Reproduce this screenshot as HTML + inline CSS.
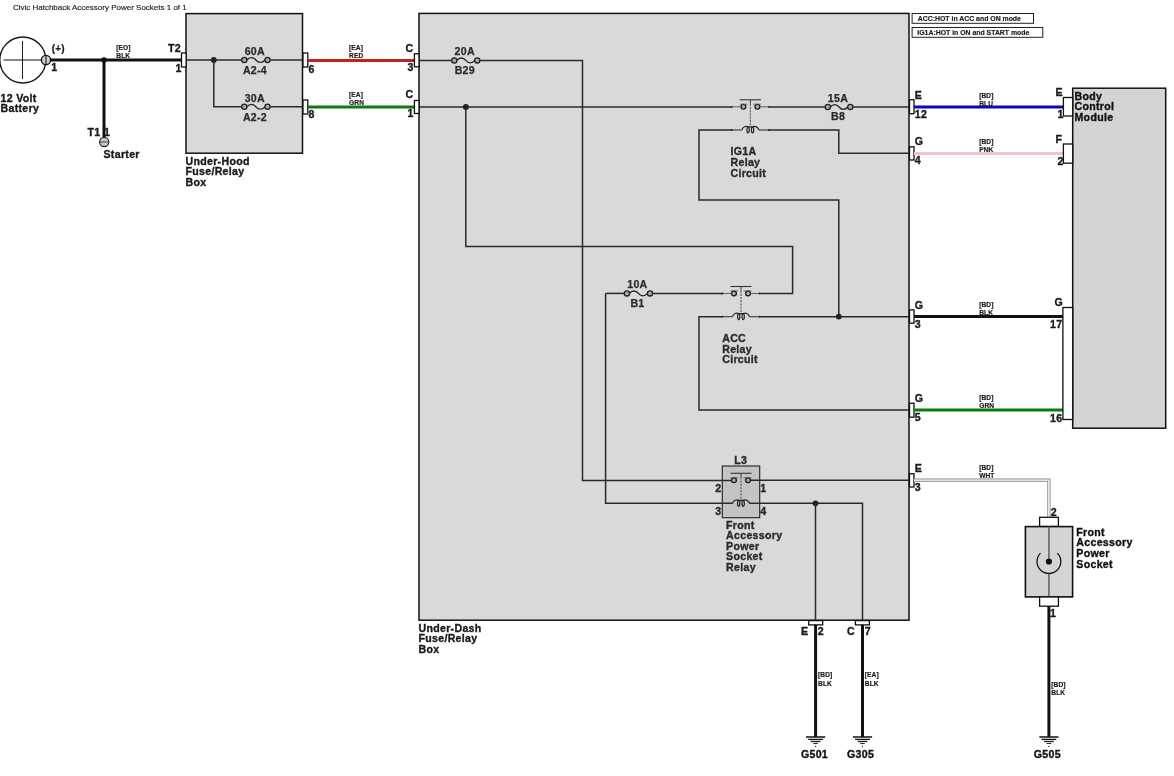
<!DOCTYPE html><html><head><meta charset="utf-8"><style>html,body{margin:0;padding:0;background:#fff;}svg{display:block;will-change:transform;}text{font-family:"Liberation Sans",sans-serif;}</style></head><body>
<svg width="1174" height="776" viewBox="0 0 1174 776">
<rect x="0" y="0" width="1174" height="776" fill="#fff"/>
<text x="12.9" y="9.5" font-size="8" text-anchor="start" fill="#222" stroke="#222" stroke-width="0.15" letter-spacing="0" font-weight="normal">Civic Hatchback Accessory Power Sockets 1 of 1</text>
<circle cx="22.8" cy="60" r="23" fill="none" stroke="#1a1a1a" stroke-width="1.4"/>
<line x1="22.5" y1="41" x2="22.5" y2="79" stroke="#222" stroke-width="1" />
<line x1="3.5" y1="60" x2="41.5" y2="60" stroke="#111" stroke-width="1.1" />
<text x="51.8" y="51.8" font-size="10" text-anchor="start" fill="#1a1a1a" stroke="#1a1a1a" stroke-width="0.2" letter-spacing="0.2" font-weight="bold">(+)</text>
<text x="51.3" y="71.4" font-size="10.6" text-anchor="start" fill="#1a1a1a" stroke="#1a1a1a" stroke-width="0.35" letter-spacing="0.3" font-weight="bold">1</text>
<text x="0.5" y="101.8" font-size="10.6" text-anchor="start" fill="#1a1a1a" stroke="#1a1a1a" stroke-width="0.35" letter-spacing="0.3" font-weight="bold">12 Volt</text>
<text x="0.5" y="112.39999999999999" font-size="10.6" text-anchor="start" fill="#1a1a1a" stroke="#1a1a1a" stroke-width="0.35" letter-spacing="0.3" font-weight="bold">Battery</text>
<line x1="50" y1="60" x2="181.5" y2="60" stroke="#111" stroke-width="3" />
<line x1="104" y1="60" x2="104" y2="137.5" stroke="#111" stroke-width="3" />
<circle cx="104" cy="60" r="2.8" fill="#111"/>
<circle cx="46" cy="60" r="4.6" fill="#d0d0d0" stroke="#111" stroke-width="1.4"/>
<line x1="46" y1="55.5" x2="46" y2="64.5" stroke="#222" stroke-width="1.2" />
<circle cx="104.2" cy="142" r="4.6" fill="#c8c8c8" stroke="#222" stroke-width="1.2"/>
<line x1="99.8" y1="142" x2="108.6" y2="142" stroke="#555" stroke-width="1.2" />
<text x="87.5" y="136" font-size="10.6" text-anchor="start" fill="#1a1a1a" stroke="#1a1a1a" stroke-width="0.35" letter-spacing="0.3" font-weight="bold">T1</text>
<text x="104.0" y="136" font-size="10.6" text-anchor="start" fill="#1a1a1a" stroke="#1a1a1a" stroke-width="0.35" letter-spacing="0.3" font-weight="bold">1</text>
<text x="103.5" y="157.7" font-size="10.6" text-anchor="start" fill="#1a1a1a" stroke="#1a1a1a" stroke-width="0.35" letter-spacing="0.3" font-weight="bold">Starter</text>
<text x="116.3" y="49.7" font-size="6.6" text-anchor="start" fill="#222" stroke="#222" stroke-width="0.2" letter-spacing="0.08" font-weight="bold">[EO]</text>
<text x="116.3" y="57.900000000000006" font-size="6.6" text-anchor="start" fill="#222" stroke="#222" stroke-width="0.2" letter-spacing="0.08" font-weight="bold">BLK</text>
<rect x="186" y="13.6" width="116.5" height="139.6" fill="#d9d9d9" stroke="#111" stroke-width="1.5"/>
<line x1="186" y1="60" x2="241.5" y2="60" stroke="#2a2a2a" stroke-width="1.5" />
<line x1="270.3" y1="60" x2="303" y2="60" stroke="#2a2a2a" stroke-width="1.5" />
<circle cx="213.8" cy="60" r="2.9" fill="#222"/>
<polyline points="213.8,60 213.8,106.8 241.5,106.8" fill="none" stroke="#2a2a2a" stroke-width="1.5" stroke-linejoin="miter"/>
<line x1="270.3" y1="106.8" x2="303" y2="106.8" stroke="#2a2a2a" stroke-width="1.5" />
<circle cx="244.3" cy="60" r="2.6" fill="#ababab" stroke="#222" stroke-width="1.3"/>
<circle cx="267.5" cy="60" r="2.6" fill="#ababab" stroke="#222" stroke-width="1.3"/>
<path d="M246.9,60 C249.6,56.8 253.2,56.8 255.89999999999998,60 S262.2,63.2 264.9,60" fill="none" stroke="#222" stroke-width="1.3"/>
<text x="254.8" y="55.2" font-size="10.6" text-anchor="middle" fill="#2a2a2a" stroke="#2a2a2a" stroke-width="0.25" letter-spacing="0.25" font-weight="bold">60A</text>
<text x="254.9" y="73.5" font-size="10.6" text-anchor="middle" fill="#2a2a2a" stroke="#2a2a2a" stroke-width="0.25" letter-spacing="0.25" font-weight="bold">A2-4</text>
<circle cx="244.3" cy="106.8" r="2.6" fill="#ababab" stroke="#222" stroke-width="1.3"/>
<circle cx="267.5" cy="106.8" r="2.6" fill="#ababab" stroke="#222" stroke-width="1.3"/>
<path d="M246.9,106.8 C249.6,103.6 253.2,103.6 255.89999999999998,106.8 S262.2,110.0 264.9,106.8" fill="none" stroke="#222" stroke-width="1.3"/>
<text x="254.8" y="101.8" font-size="10.6" text-anchor="middle" fill="#2a2a2a" stroke="#2a2a2a" stroke-width="0.25" letter-spacing="0.25" font-weight="bold">30A</text>
<text x="254.9" y="120.5" font-size="10.6" text-anchor="middle" fill="#2a2a2a" stroke="#2a2a2a" stroke-width="0.25" letter-spacing="0.25" font-weight="bold">A2-2</text>
<rect x="181.5" y="53" width="4.6" height="14" fill="#fff" stroke="#111" stroke-width="1.3"/>
<rect x="303" y="53" width="4.8" height="14" fill="#fff" stroke="#111" stroke-width="1.3"/>
<rect x="303" y="100" width="4.8" height="14" fill="#fff" stroke="#111" stroke-width="1.3"/>
<text x="167.9" y="51.8" font-size="10.6" text-anchor="start" fill="#1a1a1a" stroke="#1a1a1a" stroke-width="0.35" letter-spacing="0.3" font-weight="bold">T2</text>
<text x="175.5" y="71.5" font-size="10.6" text-anchor="start" fill="#1a1a1a" stroke="#1a1a1a" stroke-width="0.35" letter-spacing="0.3" font-weight="bold">1</text>
<text x="308.5" y="73" font-size="10.6" text-anchor="start" fill="#1a1a1a" stroke="#1a1a1a" stroke-width="0.35" letter-spacing="0.3" font-weight="bold">6</text>
<text x="308.5" y="118" font-size="10.6" text-anchor="start" fill="#1a1a1a" stroke="#1a1a1a" stroke-width="0.35" letter-spacing="0.3" font-weight="bold">8</text>
<text x="185.5" y="164.5" font-size="10.6" text-anchor="start" fill="#1a1a1a" stroke="#1a1a1a" stroke-width="0.35" letter-spacing="0.3" font-weight="bold">Under-Hood</text>
<text x="185.5" y="175.3" font-size="10.6" text-anchor="start" fill="#1a1a1a" stroke="#1a1a1a" stroke-width="0.35" letter-spacing="0.3" font-weight="bold">Fuse/Relay</text>
<text x="185.5" y="186.1" font-size="10.6" text-anchor="start" fill="#1a1a1a" stroke="#1a1a1a" stroke-width="0.35" letter-spacing="0.3" font-weight="bold">Box</text>
<line x1="307.8" y1="60.4" x2="414.4" y2="60.4" stroke="#c81e1e" stroke-width="3" />
<line x1="307.8" y1="107" x2="414.4" y2="107" stroke="#0c7a0c" stroke-width="3" />
<text x="349.1" y="50.2" font-size="6.6" text-anchor="start" fill="#222" stroke="#222" stroke-width="0.2" letter-spacing="0.08" font-weight="bold">[EA]</text>
<text x="349.1" y="58.2" font-size="6.6" text-anchor="start" fill="#222" stroke="#222" stroke-width="0.2" letter-spacing="0.08" font-weight="bold">RED</text>
<text x="349.1" y="97.2" font-size="6.6" text-anchor="start" fill="#222" stroke="#222" stroke-width="0.2" letter-spacing="0.08" font-weight="bold">[EA]</text>
<text x="349.1" y="105.2" font-size="6.6" text-anchor="start" fill="#222" stroke="#222" stroke-width="0.2" letter-spacing="0.08" font-weight="bold">GRN</text>
<rect x="419" y="13.4" width="490" height="606.8" fill="#d9d9d9" stroke="#111" stroke-width="1.5"/>
<rect x="722.3" y="466" width="37.4" height="51.7" fill="#c4c4c4" stroke="#222" stroke-width="1.1"/>
<polyline points="419,60.4 451.4,60.4" fill="none" stroke="#2a2a2a" stroke-width="1.5" stroke-linejoin="miter"/>
<circle cx="454.3" cy="60.4" r="2.6" fill="#ababab" stroke="#222" stroke-width="1.3"/>
<circle cx="477.3" cy="60.4" r="2.6" fill="#ababab" stroke="#222" stroke-width="1.3"/>
<path d="M456.90000000000003,60.4 C459.57000000000005,57.199999999999996 463.13,57.199999999999996 465.8,60.4 S472.03,63.6 474.7,60.4" fill="none" stroke="#222" stroke-width="1.3"/>
<text x="464.7" y="55.4" font-size="10.6" text-anchor="middle" fill="#2a2a2a" stroke="#2a2a2a" stroke-width="0.25" letter-spacing="0.25" font-weight="bold">20A</text>
<text x="464.8" y="73.6" font-size="10.6" text-anchor="middle" fill="#2a2a2a" stroke="#2a2a2a" stroke-width="0.25" letter-spacing="0.25" font-weight="bold">B29</text>
<polyline points="480.2,60.4 582.5,60.4 582.5,480.4 731.6,480.4" fill="none" stroke="#2a2a2a" stroke-width="1.5" stroke-linejoin="miter"/>
<polyline points="419,107 732,107" fill="none" stroke="#2a2a2a" stroke-width="1.5" stroke-linejoin="miter"/>
<circle cx="743.4" cy="106.8" r="2.4" fill="#b0b0b0" stroke="#1a1a1a" stroke-width="1.3"/>
<circle cx="757.4" cy="106.8" r="2.4" fill="#b0b0b0" stroke="#1a1a1a" stroke-width="1.3"/>
<line x1="739.8" y1="99.8" x2="760.9" y2="99.8" stroke="#333" stroke-width="1.1" />
<line x1="739.8" y1="104.2" x2="747.4" y2="104.2" stroke="#555" stroke-width="0.8" />
<line x1="753.0" y1="104.2" x2="760.9" y2="104.2" stroke="#555" stroke-width="0.8" />
<line x1="750.4" y1="99.8" x2="750.4" y2="103.8" stroke="#444" stroke-width="1.1" />
<line x1="750.4" y1="103.8" x2="750.4" y2="126.6" stroke="#666" stroke-width="1.2" stroke-dasharray="2.2,1"/>
<path d="M742.0,130.0 C742.4,126.5 746.4,126.0 748.1,126.8 C746.1,128.0 746.9,133.0 748.1,132.8 C749.4,133.0 749.9,128.0 748.1,126.8 M752.6,126.8 C750.6,128.0 751.4,133.0 752.6,132.8 C753.9,133.0 754.4,128.0 752.6,126.8 C754.4,126.0 758.4,126.5 758.8,130.0 M748.1,126.8 L752.6,126.8" fill="none" stroke="#222" stroke-width="1.25"/>
<line x1="731.8" y1="106.8" x2="741.1" y2="106.8" stroke="#666" stroke-width="1.1" />
<line x1="759.6999999999999" y1="106.8" x2="768.9" y2="106.8" stroke="#666" stroke-width="1.1" />
<line x1="731.8" y1="130.0" x2="742.0" y2="130.0" stroke="#444" stroke-width="1.2" />
<line x1="758.8" y1="130.0" x2="768.9" y2="130.0" stroke="#444" stroke-width="1.2" />
<circle cx="731.8" cy="106.8" r="0.9" fill="#222"/>
<circle cx="768.9" cy="106.8" r="0.9" fill="#222"/>
<circle cx="731.8" cy="130.0" r="0.9" fill="#222"/>
<circle cx="768.9" cy="130.0" r="0.9" fill="#222"/>
<polyline points="769,107 825.2,107" fill="none" stroke="#2a2a2a" stroke-width="1.5" stroke-linejoin="miter"/>
<circle cx="827.8" cy="107" r="2.6" fill="#ababab" stroke="#222" stroke-width="1.3"/>
<circle cx="850.3" cy="107" r="2.6" fill="#ababab" stroke="#222" stroke-width="1.3"/>
<path d="M830.4,107 C832.995,103.8 836.4549999999999,103.8 839.05,107 S845.1049999999999,110.2 847.6999999999999,107" fill="none" stroke="#222" stroke-width="1.3"/>
<text x="837.9499999999999" y="102" font-size="10.6" text-anchor="middle" fill="#2a2a2a" stroke="#2a2a2a" stroke-width="0.25" letter-spacing="0.25" font-weight="bold">15A</text>
<text x="838.05" y="120.3" font-size="10.6" text-anchor="middle" fill="#2a2a2a" stroke="#2a2a2a" stroke-width="0.25" letter-spacing="0.25" font-weight="bold">B8</text>
<polyline points="852.9,107 909,107" fill="none" stroke="#2a2a2a" stroke-width="1.5" stroke-linejoin="miter"/>
<circle cx="465.9" cy="106.9" r="3" fill="#222"/>
<polyline points="465.8,107 465.8,246.4 792.6,246.4 792.6,293.4 759.6,293.4" fill="none" stroke="#2a2a2a" stroke-width="1.5" stroke-linejoin="miter"/>
<polyline points="605.6,293.4 624.3,293.4" fill="none" stroke="#2a2a2a" stroke-width="1.5" stroke-linejoin="miter"/>
<circle cx="626.9" cy="293.4" r="2.6" fill="#ababab" stroke="#222" stroke-width="1.3"/>
<circle cx="650" cy="293.4" r="2.6" fill="#ababab" stroke="#222" stroke-width="1.3"/>
<path d="M629.5,293.4 C632.185,290.2 635.7650000000001,290.2 638.45,293.4 S644.715,296.59999999999997 647.4,293.4" fill="none" stroke="#222" stroke-width="1.3"/>
<text x="637.35" y="288.4" font-size="10.6" text-anchor="middle" fill="#2a2a2a" stroke="#2a2a2a" stroke-width="0.25" letter-spacing="0.25" font-weight="bold">10A</text>
<text x="637.45" y="306.5" font-size="10.6" text-anchor="middle" fill="#2a2a2a" stroke="#2a2a2a" stroke-width="0.25" letter-spacing="0.25" font-weight="bold">B1</text>
<polyline points="652.6,293.4 722.4,293.4" fill="none" stroke="#2a2a2a" stroke-width="1.5" stroke-linejoin="miter"/>
<polyline points="605.6,293.4 605.6,503.3 732.6,503.3" fill="none" stroke="#2a2a2a" stroke-width="1.5" stroke-linejoin="miter"/>
<circle cx="734" cy="293.5" r="2.4" fill="#b0b0b0" stroke="#1a1a1a" stroke-width="1.3"/>
<circle cx="748" cy="293.5" r="2.4" fill="#b0b0b0" stroke="#1a1a1a" stroke-width="1.3"/>
<line x1="730.4" y1="286.5" x2="751.5" y2="286.5" stroke="#333" stroke-width="1.1" />
<line x1="730.4" y1="290.9" x2="738" y2="290.9" stroke="#555" stroke-width="0.8" />
<line x1="743.6" y1="290.9" x2="751.5" y2="290.9" stroke="#555" stroke-width="0.8" />
<line x1="741" y1="286.5" x2="741" y2="290.5" stroke="#444" stroke-width="1.1" />
<line x1="741" y1="290.5" x2="741" y2="313.3" stroke="#666" stroke-width="1.2" stroke-dasharray="2.2,1"/>
<path d="M732.6,316.7 C733,313.2 737,312.7 738.7,313.5 C736.7,314.7 737.5,319.7 738.7,319.5 C740,319.7 740.5,314.7 738.7,313.5 M743.2,313.5 C741.2,314.7 742,319.7 743.2,319.5 C744.5,319.7 745,314.7 743.2,313.5 C745,312.7 749,313.2 749.4,316.7 M738.7,313.5 L743.2,313.5" fill="none" stroke="#222" stroke-width="1.25"/>
<line x1="722.4" y1="293.5" x2="731.7" y2="293.5" stroke="#666" stroke-width="1.1" />
<line x1="750.3" y1="293.5" x2="759.5" y2="293.5" stroke="#666" stroke-width="1.1" />
<line x1="722.4" y1="316.7" x2="732.6" y2="316.7" stroke="#444" stroke-width="1.2" />
<line x1="749.4" y1="316.7" x2="759.5" y2="316.7" stroke="#444" stroke-width="1.2" />
<circle cx="722.4" cy="293.5" r="0.9" fill="#222"/>
<circle cx="759.5" cy="293.5" r="0.9" fill="#222"/>
<circle cx="722.4" cy="316.7" r="0.9" fill="#222"/>
<circle cx="759.5" cy="316.7" r="0.9" fill="#222"/>
<polyline points="731.8,130 699,130 699,200 838.8,200 838.8,316.6" fill="none" stroke="#2a2a2a" stroke-width="1.5" stroke-linejoin="miter"/>
<polyline points="768.9,130 838.8,130 838.8,153.3 909,153.3" fill="none" stroke="#2a2a2a" stroke-width="1.5" stroke-linejoin="miter"/>
<polyline points="722.4,316.7 699,316.7 699,410 909,410" fill="none" stroke="#2a2a2a" stroke-width="1.5" stroke-linejoin="miter"/>
<polyline points="759.6,316.7 909,316.7" fill="none" stroke="#2a2a2a" stroke-width="1.5" stroke-linejoin="miter"/>
<circle cx="838.8" cy="316.6" r="2.9" fill="#222"/>
<text x="730.5" y="155.3" font-size="10.6" text-anchor="start" fill="#2a2a2a" stroke="#2a2a2a" stroke-width="0.35" letter-spacing="0.3" font-weight="bold">IG1A</text>
<text x="730.5" y="165.9" font-size="10.6" text-anchor="start" fill="#2a2a2a" stroke="#2a2a2a" stroke-width="0.35" letter-spacing="0.3" font-weight="bold">Relay</text>
<text x="730.5" y="176.5" font-size="10.6" text-anchor="start" fill="#2a2a2a" stroke="#2a2a2a" stroke-width="0.35" letter-spacing="0.3" font-weight="bold">Circuit</text>
<text x="722.2" y="342.2" font-size="10.6" text-anchor="start" fill="#2a2a2a" stroke="#2a2a2a" stroke-width="0.35" letter-spacing="0.3" font-weight="bold">ACC</text>
<text x="722.2" y="352.7" font-size="10.6" text-anchor="start" fill="#2a2a2a" stroke="#2a2a2a" stroke-width="0.35" letter-spacing="0.3" font-weight="bold">Relay</text>
<text x="722.2" y="363.2" font-size="10.6" text-anchor="start" fill="#2a2a2a" stroke="#2a2a2a" stroke-width="0.35" letter-spacing="0.3" font-weight="bold">Circuit</text>
<circle cx="734" cy="480.3" r="2.4" fill="#b0b0b0" stroke="#1a1a1a" stroke-width="1.3"/>
<circle cx="748" cy="480.3" r="2.4" fill="#b0b0b0" stroke="#1a1a1a" stroke-width="1.3"/>
<line x1="730.4" y1="473.3" x2="751.5" y2="473.3" stroke="#333" stroke-width="1.1" />
<line x1="730.4" y1="477.7" x2="738" y2="477.7" stroke="#555" stroke-width="0.8" />
<line x1="743.6" y1="477.7" x2="751.5" y2="477.7" stroke="#555" stroke-width="0.8" />
<line x1="741" y1="473.3" x2="741" y2="477.3" stroke="#444" stroke-width="1.1" />
<line x1="741" y1="477.3" x2="741" y2="500.1" stroke="#666" stroke-width="1.2" stroke-dasharray="2.2,1"/>
<path d="M732.6,503.5 C733,500.0 737,499.5 738.7,500.3 C736.7,501.5 737.5,506.5 738.7,506.3 C740,506.5 740.5,501.5 738.7,500.3 M743.2,500.3 C741.2,501.5 742,506.5 743.2,506.3 C744.5,506.5 745,501.5 743.2,500.3 C745,499.5 749,500.0 749.4,503.5 M738.7,500.3 L743.2,500.3" fill="none" stroke="#222" stroke-width="1.25"/>
<polyline points="750.3,480.2 909,480.2" fill="none" stroke="#2a2a2a" stroke-width="1.5" stroke-linejoin="miter"/>
<polyline points="749.4,503.3 862.5,503.3 862.5,620.2" fill="none" stroke="#2a2a2a" stroke-width="1.5" stroke-linejoin="miter"/>
<circle cx="815.5" cy="503.3" r="2.9" fill="#222"/>
<line x1="815.5" y1="503.3" x2="815.5" y2="620.2" stroke="#2a2a2a" stroke-width="1.5" />
<text x="740.7" y="463.5" font-size="10.6" text-anchor="middle" fill="#2a2a2a" stroke="#2a2a2a" stroke-width="0.35" letter-spacing="0.3" font-weight="bold">L3</text>
<text x="715.3" y="491.5" font-size="10.6" text-anchor="start" fill="#2a2a2a" stroke="#2a2a2a" stroke-width="0.35" letter-spacing="0.3" font-weight="bold">2</text>
<text x="760.2" y="491.5" font-size="10.6" text-anchor="start" fill="#2a2a2a" stroke="#2a2a2a" stroke-width="0.35" letter-spacing="0.3" font-weight="bold">1</text>
<text x="715.3" y="514.6" font-size="10.6" text-anchor="start" fill="#2a2a2a" stroke="#2a2a2a" stroke-width="0.35" letter-spacing="0.3" font-weight="bold">3</text>
<text x="760.2" y="514.6" font-size="10.6" text-anchor="start" fill="#2a2a2a" stroke="#2a2a2a" stroke-width="0.35" letter-spacing="0.3" font-weight="bold">4</text>
<text x="726.1" y="528.9" font-size="10.6" text-anchor="start" fill="#2a2a2a" stroke="#2a2a2a" stroke-width="0.35" letter-spacing="0.3" font-weight="bold">Front</text>
<text x="726.1" y="539.35" font-size="10.6" text-anchor="start" fill="#2a2a2a" stroke="#2a2a2a" stroke-width="0.35" letter-spacing="0.3" font-weight="bold">Accessory</text>
<text x="726.1" y="549.8" font-size="10.6" text-anchor="start" fill="#2a2a2a" stroke="#2a2a2a" stroke-width="0.35" letter-spacing="0.3" font-weight="bold">Power</text>
<text x="726.1" y="560.25" font-size="10.6" text-anchor="start" fill="#2a2a2a" stroke="#2a2a2a" stroke-width="0.35" letter-spacing="0.3" font-weight="bold">Socket</text>
<text x="726.1" y="570.6999999999999" font-size="10.6" text-anchor="start" fill="#2a2a2a" stroke="#2a2a2a" stroke-width="0.35" letter-spacing="0.3" font-weight="bold">Relay</text>
<text x="418.5" y="631.8" font-size="10.6" text-anchor="start" fill="#1a1a1a" stroke="#1a1a1a" stroke-width="0.35" letter-spacing="0.3" font-weight="bold">Under-Dash</text>
<text x="418.5" y="642.3" font-size="10.6" text-anchor="start" fill="#1a1a1a" stroke="#1a1a1a" stroke-width="0.35" letter-spacing="0.3" font-weight="bold">Fuse/Relay</text>
<text x="418.5" y="652.8" font-size="10.6" text-anchor="start" fill="#1a1a1a" stroke="#1a1a1a" stroke-width="0.35" letter-spacing="0.3" font-weight="bold">Box</text>
<rect x="414.4" y="53.8" width="4.6" height="13" fill="#fff" stroke="#111" stroke-width="1.3"/>
<rect x="414.4" y="100.5" width="4.6" height="13" fill="#fff" stroke="#111" stroke-width="1.3"/>
<text x="405.5" y="51.8" font-size="10.6" text-anchor="start" fill="#1a1a1a" stroke="#1a1a1a" stroke-width="0.35" letter-spacing="0.3" font-weight="bold">C</text>
<text x="407.5" y="71" font-size="10.6" text-anchor="start" fill="#1a1a1a" stroke="#1a1a1a" stroke-width="0.35" letter-spacing="0.3" font-weight="bold">3</text>
<text x="405.5" y="98" font-size="10.6" text-anchor="start" fill="#1a1a1a" stroke="#1a1a1a" stroke-width="0.35" letter-spacing="0.3" font-weight="bold">C</text>
<text x="407.5" y="117" font-size="10.6" text-anchor="start" fill="#1a1a1a" stroke="#1a1a1a" stroke-width="0.35" letter-spacing="0.3" font-weight="bold">1</text>
<rect x="909.5" y="99.7" width="4.5" height="14.0" fill="#fff" stroke="#111" stroke-width="1.3"/>
<text x="914.7" y="99" font-size="10.6" text-anchor="start" fill="#1a1a1a" stroke="#1a1a1a" stroke-width="0.35" letter-spacing="0.3" font-weight="bold">E</text>
<text x="914.7" y="118" font-size="10.6" text-anchor="start" fill="#1a1a1a" stroke="#1a1a1a" stroke-width="0.35" letter-spacing="0.3" font-weight="bold">12</text>
<rect x="909.5" y="146.8" width="4.5" height="13.199999999999989" fill="#fff" stroke="#111" stroke-width="1.3"/>
<text x="914.7" y="144.5" font-size="10.6" text-anchor="start" fill="#1a1a1a" stroke="#1a1a1a" stroke-width="0.35" letter-spacing="0.3" font-weight="bold">G</text>
<text x="914.7" y="164.3" font-size="10.6" text-anchor="start" fill="#1a1a1a" stroke="#1a1a1a" stroke-width="0.35" letter-spacing="0.3" font-weight="bold">4</text>
<rect x="909.5" y="309.9" width="4.5" height="13.300000000000011" fill="#fff" stroke="#111" stroke-width="1.3"/>
<text x="914.7" y="308.5" font-size="10.6" text-anchor="start" fill="#1a1a1a" stroke="#1a1a1a" stroke-width="0.35" letter-spacing="0.3" font-weight="bold">G</text>
<text x="914.7" y="327.8" font-size="10.6" text-anchor="start" fill="#1a1a1a" stroke="#1a1a1a" stroke-width="0.35" letter-spacing="0.3" font-weight="bold">3</text>
<rect x="909.5" y="403.2" width="4.5" height="14.0" fill="#fff" stroke="#111" stroke-width="1.3"/>
<text x="914.7" y="401.8" font-size="10.6" text-anchor="start" fill="#1a1a1a" stroke="#1a1a1a" stroke-width="0.35" letter-spacing="0.3" font-weight="bold">G</text>
<text x="914.7" y="421" font-size="10.6" text-anchor="start" fill="#1a1a1a" stroke="#1a1a1a" stroke-width="0.35" letter-spacing="0.3" font-weight="bold">5</text>
<rect x="909.5" y="473.7" width="4.5" height="13.300000000000011" fill="#fff" stroke="#111" stroke-width="1.3"/>
<text x="914.7" y="471.5" font-size="10.6" text-anchor="start" fill="#1a1a1a" stroke="#1a1a1a" stroke-width="0.35" letter-spacing="0.3" font-weight="bold">E</text>
<text x="914.7" y="491" font-size="10.6" text-anchor="start" fill="#1a1a1a" stroke="#1a1a1a" stroke-width="0.35" letter-spacing="0.3" font-weight="bold">3</text>
<line x1="914" y1="107" x2="1063.4" y2="107" stroke="#0808b8" stroke-width="3" />
<line x1="914" y1="153.4" x2="1063.4" y2="153.4" stroke="#f0c4cc" stroke-width="3" />
<line x1="914" y1="316.6" x2="1063" y2="316.6" stroke="#111" stroke-width="3" />
<line x1="914" y1="410" x2="1063" y2="410" stroke="#0c7a0c" stroke-width="3" />
<polyline points="914,480.1 1048.9,480.1 1048.9,517.3" fill="none" stroke="#888" stroke-width="3.2" stroke-linejoin="miter"/>
<polyline points="914,480.1 1048.9,480.1 1048.9,517.3" fill="none" stroke="#fff" stroke-width="1.4" stroke-linejoin="miter"/>
<text x="979.1999999999999" y="97.5" font-size="6.6" text-anchor="start" fill="#222" stroke="#222" stroke-width="0.2" letter-spacing="0.08" font-weight="bold">[BD]</text>
<text x="979.1999999999999" y="105.6" font-size="6.6" text-anchor="start" fill="#222" stroke="#222" stroke-width="0.2" letter-spacing="0.08" font-weight="bold">BLU</text>
<text x="979.1999999999999" y="144.0" font-size="6.6" text-anchor="start" fill="#222" stroke="#222" stroke-width="0.2" letter-spacing="0.08" font-weight="bold">[BD]</text>
<text x="979.1999999999999" y="152.1" font-size="6.6" text-anchor="start" fill="#222" stroke="#222" stroke-width="0.2" letter-spacing="0.08" font-weight="bold">PNK</text>
<text x="979.1999999999999" y="306.7" font-size="6.6" text-anchor="start" fill="#222" stroke="#222" stroke-width="0.2" letter-spacing="0.08" font-weight="bold">[BD]</text>
<text x="979.1999999999999" y="314.8" font-size="6.6" text-anchor="start" fill="#222" stroke="#222" stroke-width="0.2" letter-spacing="0.08" font-weight="bold">BLK</text>
<text x="979.1999999999999" y="400.2" font-size="6.6" text-anchor="start" fill="#222" stroke="#222" stroke-width="0.2" letter-spacing="0.08" font-weight="bold">[BD]</text>
<text x="979.1999999999999" y="408.3" font-size="6.6" text-anchor="start" fill="#222" stroke="#222" stroke-width="0.2" letter-spacing="0.08" font-weight="bold">GRN</text>
<text x="979.1999999999999" y="470.3" font-size="6.6" text-anchor="start" fill="#222" stroke="#222" stroke-width="0.2" letter-spacing="0.08" font-weight="bold">[BD]</text>
<text x="979.1999999999999" y="478.40000000000003" font-size="6.6" text-anchor="start" fill="#222" stroke="#222" stroke-width="0.2" letter-spacing="0.08" font-weight="bold">WHT</text>
<rect x="912.1" y="13.5" width="121.4" height="9.8" fill="#fff" stroke="#222" stroke-width="1"/>
<rect x="912.1" y="27.5" width="130.7" height="9.8" fill="#fff" stroke="#222" stroke-width="1"/>
<text x="917.8" y="21.2" font-size="6.9" text-anchor="start" fill="#222" stroke="#222" stroke-width="0.18" letter-spacing="0" font-weight="bold">ACC:HOT in ACC and ON mode</text>
<text x="917.3" y="35.2" font-size="6.9" text-anchor="start" fill="#222" stroke="#222" stroke-width="0.18" letter-spacing="0" font-weight="bold">IG1A:HOT in ON and START mode</text>
<rect x="1072.7" y="88.2" width="93" height="340" fill="#d4d4d4" stroke="#111" stroke-width="1.5"/>
<text x="1074.5" y="100.0" font-size="10.6" text-anchor="start" fill="#111" stroke="#111" stroke-width="0.35" letter-spacing="0.3" font-weight="bold">Body</text>
<text x="1074.5" y="110.4" font-size="10.6" text-anchor="start" fill="#111" stroke="#111" stroke-width="0.35" letter-spacing="0.3" font-weight="bold">Control</text>
<text x="1074.5" y="120.8" font-size="10.6" text-anchor="start" fill="#111" stroke="#111" stroke-width="0.35" letter-spacing="0.3" font-weight="bold">Module</text>
<rect x="1063.4" y="97.5" width="9.3" height="18.5" fill="#fff" stroke="#111" stroke-width="1.3"/>
<rect x="1063.4" y="144" width="9.3" height="19.2" fill="#fff" stroke="#111" stroke-width="1.3"/>
<rect x="1062.9" y="307.5" width="9.8" height="112" fill="#fff" stroke="#111" stroke-width="1.3"/>
<text x="1055.5" y="96" font-size="10.6" text-anchor="start" fill="#1a1a1a" stroke="#1a1a1a" stroke-width="0.35" letter-spacing="0.3" font-weight="bold">E</text>
<text x="1057.5" y="118" font-size="10.6" text-anchor="start" fill="#1a1a1a" stroke="#1a1a1a" stroke-width="0.35" letter-spacing="0.3" font-weight="bold">1</text>
<text x="1055.5" y="142.6" font-size="10.6" text-anchor="start" fill="#1a1a1a" stroke="#1a1a1a" stroke-width="0.35" letter-spacing="0.3" font-weight="bold">F</text>
<text x="1057.5" y="164.8" font-size="10.6" text-anchor="start" fill="#1a1a1a" stroke="#1a1a1a" stroke-width="0.35" letter-spacing="0.3" font-weight="bold">2</text>
<text x="1054.5" y="306" font-size="10.6" text-anchor="start" fill="#1a1a1a" stroke="#1a1a1a" stroke-width="0.35" letter-spacing="0.3" font-weight="bold">G</text>
<text x="1050.0" y="328.3" font-size="10.6" text-anchor="start" fill="#1a1a1a" stroke="#1a1a1a" stroke-width="0.35" letter-spacing="0.3" font-weight="bold">17</text>
<text x="1050.0" y="421.7" font-size="10.6" text-anchor="start" fill="#1a1a1a" stroke="#1a1a1a" stroke-width="0.35" letter-spacing="0.3" font-weight="bold">16</text>
<rect x="1039.6" y="517.3" width="18.8" height="9.2" fill="#fff" stroke="#111" stroke-width="1.3"/>
<rect x="1025.4" y="526.6" width="47.2" height="70.3" fill="#d4d4d4" stroke="#111" stroke-width="1.6"/>
<line x1="1048.9" y1="526.6" x2="1048.9" y2="561.5" stroke="#555" stroke-width="1.4" />
<line x1="1048.9" y1="573.4" x2="1048.9" y2="597" stroke="#555" stroke-width="1.4" />
<path d="M1040.5,553.1 A11.9,11.9 0 1 0 1057.3,553.1" fill="none" stroke="#111" stroke-width="1.3"/>
<circle cx="1048.9" cy="561.5" r="3.1" fill="#111"/>
<rect x="1039.6" y="597" width="18.8" height="9.2" fill="#fff" stroke="#111" stroke-width="1.3"/>
<text x="1050.8" y="516" font-size="10.6" text-anchor="start" fill="#1a1a1a" stroke="#1a1a1a" stroke-width="0.35" letter-spacing="0.3" font-weight="bold">2</text>
<text x="1050.1" y="616.5" font-size="10.6" text-anchor="start" fill="#1a1a1a" stroke="#1a1a1a" stroke-width="0.35" letter-spacing="0.3" font-weight="bold">1</text>
<text x="1076.3" y="535.7" font-size="10.6" text-anchor="start" fill="#111" stroke="#111" stroke-width="0.35" letter-spacing="0.3" font-weight="bold">Front</text>
<text x="1076.3" y="546.3000000000001" font-size="10.6" text-anchor="start" fill="#111" stroke="#111" stroke-width="0.35" letter-spacing="0.3" font-weight="bold">Accessory</text>
<text x="1076.3" y="556.9000000000001" font-size="10.6" text-anchor="start" fill="#111" stroke="#111" stroke-width="0.35" letter-spacing="0.3" font-weight="bold">Power</text>
<text x="1076.3" y="567.5" font-size="10.6" text-anchor="start" fill="#111" stroke="#111" stroke-width="0.35" letter-spacing="0.3" font-weight="bold">Socket</text>
<line x1="1048.9" y1="606.2" x2="1048.9" y2="737" stroke="#111" stroke-width="3" />
<line x1="1039.3000000000002" y1="737" x2="1058.5" y2="737" stroke="#111" stroke-width="1.5" />
<line x1="1041.5" y1="739.4" x2="1056.3000000000002" y2="739.4" stroke="#111" stroke-width="1.3" />
<line x1="1044.0" y1="741.5" x2="1053.8000000000002" y2="741.5" stroke="#222" stroke-width="1.3" />
<line x1="1046.6000000000001" y1="743.5" x2="1051.2" y2="743.5" stroke="#333" stroke-width="1.1" />
<circle cx="1048.9" cy="746.4" r="0.7" fill="#333"/>
<text x="1047.4" y="757.8" font-size="10.6" text-anchor="middle" fill="#111" stroke="#111" stroke-width="0.35" letter-spacing="0.3" font-weight="bold">G505</text>
<text x="1051.3" y="687.3" font-size="6.6" text-anchor="start" fill="#222" stroke="#222" stroke-width="0.2" letter-spacing="0.08" font-weight="bold">[BD]</text>
<text x="1051.3" y="695.1999999999999" font-size="6.6" text-anchor="start" fill="#222" stroke="#222" stroke-width="0.2" letter-spacing="0.08" font-weight="bold">BLK</text>
<rect x="808.7" y="620.6" width="14" height="4.3" fill="#fff" stroke="#111" stroke-width="1.3"/>
<rect x="855.4" y="620.6" width="14" height="4.3" fill="#fff" stroke="#111" stroke-width="1.3"/>
<text x="800.9" y="634.8" font-size="10.6" text-anchor="start" fill="#1a1a1a" stroke="#1a1a1a" stroke-width="0.35" letter-spacing="0.3" font-weight="bold">E</text>
<text x="817.7" y="634.8" font-size="10.6" text-anchor="start" fill="#1a1a1a" stroke="#1a1a1a" stroke-width="0.35" letter-spacing="0.3" font-weight="bold">2</text>
<text x="846.9" y="634.8" font-size="10.6" text-anchor="start" fill="#1a1a1a" stroke="#1a1a1a" stroke-width="0.35" letter-spacing="0.3" font-weight="bold">C</text>
<text x="864.7" y="634.8" font-size="10.6" text-anchor="start" fill="#1a1a1a" stroke="#1a1a1a" stroke-width="0.35" letter-spacing="0.3" font-weight="bold">7</text>
<line x1="815.6" y1="624.7" x2="815.6" y2="737" stroke="#111" stroke-width="3" />
<line x1="862.5" y1="624.7" x2="862.5" y2="737" stroke="#111" stroke-width="3" />
<line x1="806.0" y1="737" x2="825.2" y2="737" stroke="#111" stroke-width="1.5" />
<line x1="808.2" y1="739.4" x2="823.0" y2="739.4" stroke="#111" stroke-width="1.3" />
<line x1="810.7" y1="741.5" x2="820.5" y2="741.5" stroke="#222" stroke-width="1.3" />
<line x1="813.3000000000001" y1="743.5" x2="817.9" y2="743.5" stroke="#333" stroke-width="1.1" />
<circle cx="815.6" cy="746.4" r="0.7" fill="#333"/>
<line x1="852.9" y1="737" x2="872.1" y2="737" stroke="#111" stroke-width="1.5" />
<line x1="855.1" y1="739.4" x2="869.9" y2="739.4" stroke="#111" stroke-width="1.3" />
<line x1="857.6" y1="741.5" x2="867.4" y2="741.5" stroke="#222" stroke-width="1.3" />
<line x1="860.2" y1="743.5" x2="864.8" y2="743.5" stroke="#333" stroke-width="1.1" />
<circle cx="862.5" cy="746.4" r="0.7" fill="#333"/>
<text x="818.0999999999999" y="677.4" font-size="6.6" text-anchor="start" fill="#222" stroke="#222" stroke-width="0.2" letter-spacing="0.08" font-weight="bold">[BD]</text>
<text x="818.0999999999999" y="686.3" font-size="6.6" text-anchor="start" fill="#222" stroke="#222" stroke-width="0.2" letter-spacing="0.08" font-weight="bold">BLK</text>
<text x="864.8" y="677.4" font-size="6.6" text-anchor="start" fill="#222" stroke="#222" stroke-width="0.2" letter-spacing="0.08" font-weight="bold">[EA]</text>
<text x="864.8" y="686.3" font-size="6.6" text-anchor="start" fill="#222" stroke="#222" stroke-width="0.2" letter-spacing="0.08" font-weight="bold">BLK</text>
<text x="814.5" y="757.7" font-size="10.6" text-anchor="middle" fill="#111" stroke="#111" stroke-width="0.35" letter-spacing="0.3" font-weight="bold">G501</text>
<text x="860.6" y="757.7" font-size="10.6" text-anchor="middle" fill="#111" stroke="#111" stroke-width="0.35" letter-spacing="0.3" font-weight="bold">G305</text>
</svg></body></html>
